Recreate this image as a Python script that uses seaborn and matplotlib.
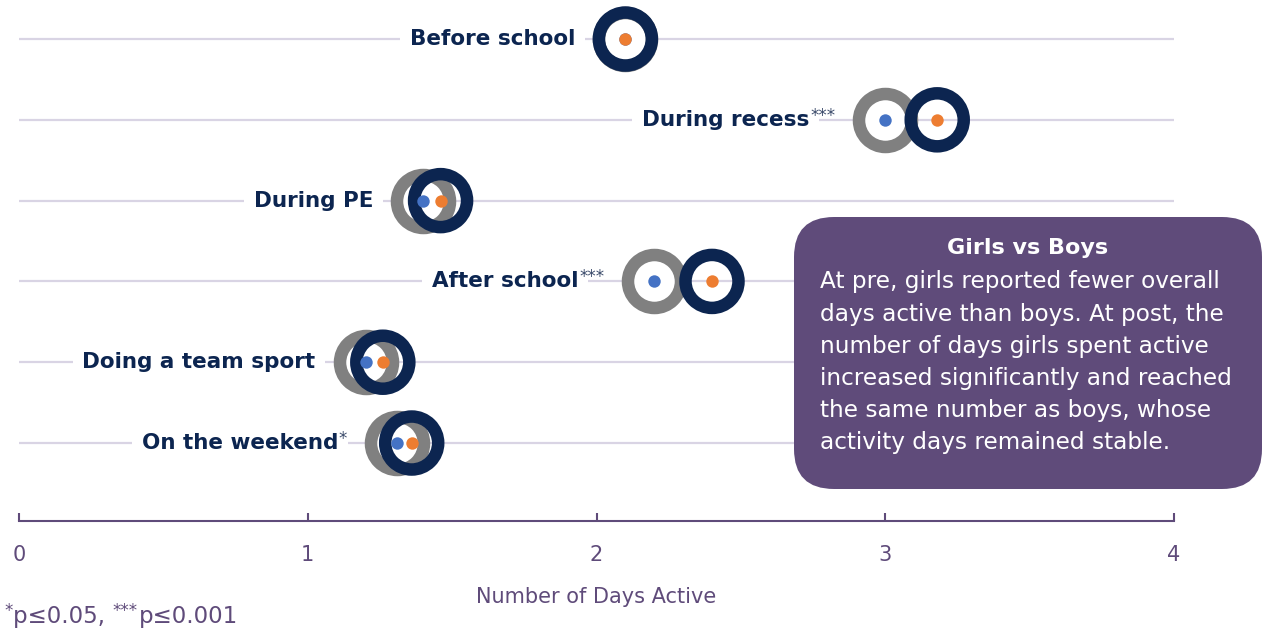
import numpy as np
import pandas as pd
import seaborn as sns
import matplotlib.pyplot as plt
from matplotlib.patches import FancyBboxPatch
from matplotlib.transforms import IdentityTransform

# ---------------- data ----------------
activities = ["Before school", "During recess", "During PE", "After school",
              "Doing a team sport", "On the weekend"]
significance = ["", "***", "", "***", "", "*"]
girls = [2.10, 3.00, 1.40, 2.20, 1.20, 1.31]
boys = [2.10, 3.18, 1.46, 2.40, 1.26, 1.36]
xticks = [0, 1, 2, 3, 4]
x_label = "Number of Days Active"
foot_parts = [("*", "p≤0.05, "), ("***", "p≤0.001")]
box_title = "Girls vs Boys"
box_lines = ["At pre, girls reported fewer overall",
             "days active than boys. At post, the",
             "number of days girls spent active",
             "increased significantly and reached",
             "the same number as boys, whose",
             "activity days remained stable."]

df = pd.DataFrame({"activity": activities, "girls": girls, "boys": boys})

# ---------------- style ----------------
NAVY = "#0c2550"
GRAY = "#808080"
BLUE = "#4472c4"
ORANGE = "#ed7d31"
PURPLE = "#5f4b7a"
GRID = "#d9d4e4"
FONT = "DejaVu Sans"

sns.set_theme(style="white")
plt.rcParams["font.family"] = [FONT]

W, H = 1263, 633
fig = plt.figure(figsize=(W / 100, H / 100), dpi=100)
ax = fig.add_axes([19 / W, 1 - 521 / H, 1155 / W, 521 / H])
renderer = fig.canvas.get_renderer()

ring_s = 1456
ring_lw = 9.0
dot_s = 80

sns.scatterplot(data=df, x="girls", y="activity", ax=ax, s=ring_s, marker="o",
                facecolor="white", edgecolor=GRAY, linewidth=ring_lw, zorder=3,
                legend=False)
sns.scatterplot(data=df, x="boys", y="activity", ax=ax, s=ring_s, marker="o",
                facecolor="none", edgecolor=NAVY, linewidth=ring_lw, zorder=4,
                legend=False)
sns.scatterplot(data=df, x="girls", y="activity", ax=ax, s=dot_s, marker="o",
                color=BLUE, linewidth=0, zorder=5, legend=False)
sns.scatterplot(data=df, x="boys", y="activity", ax=ax, s=dot_s, marker="o",
                color=ORANGE, linewidth=0, zorder=6, legend=False)

ax.set_xlim(0, 4)
ax.set_ylim(5.965, -0.483)
ax.set_xticks(xticks)
ax.set_xticklabels([str(t) for t in xticks])
ax.set_ylabel("")
ax.set_xlabel(x_label, color=PURPLE, fontsize=15, labelpad=16)

ax.grid(axis="y", color=GRID, linewidth=1.6, zorder=1)
ax.grid(axis="x", visible=False)
ax.tick_params(axis="y", length=0, labelleft=False)
ax.tick_params(axis="x", bottom=True, direction="in", length=6, width=1.5,
               colors=PURPLE, labelsize=15, pad=17)
for side in ["top", "left", "right"]:
    ax.spines[side].set_visible(False)
ax.spines["bottom"].set_color(PURPLE)
ax.spines["bottom"].set_linewidth(1.5)


def text_width(s, size):
    t = fig.text(0, 0, s, fontsize=size)
    w = t.get_window_extent(renderer).width
    t.remove()
    return w


# category labels to the left of the rings
AST_SIZE = 12
for i, (name, sig, g) in enumerate(zip(activities, significance, girls)):
    ast_w = text_width(sig, AST_SIZE) + 1 if sig else 0
    lab = ax.annotate(name, xy=(g, i), xytext=(-50 - ast_w, 0),
                      textcoords="offset pixels", ha="right", va="center",
                      fontsize=15.5, fontweight="bold", color=NAVY, zorder=2,
                      bbox=dict(boxstyle="square,pad=0.45", fc="white", ec="none"))
    if sig:
        ax.annotate(sig, xy=(1, 1), xycoords=lab, xytext=(1, 3),
                    textcoords="offset pixels", ha="left", va="top",
                    fontsize=AST_SIZE, color="#3a4a6a", zorder=2)

# text box
box = FancyBboxPatch((794, 633 - 489), 468, 272,
                     boxstyle="round,pad=0,rounding_size=40",
                     transform=IdentityTransform(), fc=PURPLE, ec="none",
                     zorder=10)
fig.patches.append(box)
fig.text(1028 / W, 1 - 248 / H, box_title, ha="center", va="center",
         fontsize=16, fontweight="bold", color="white", zorder=11)
for k, line in enumerate(box_lines):
    fig.text(820 / W, 1 - (282 + 32.2 * k) / H, line, ha="left", va="center",
             fontsize=16.7, color="white", zorder=11)

# footnote with superscript asterisks
FOOT_SIZE = 16.5
prev = None
x0 = 4 / W
for star, main in foot_parts:
    st = fig.text(x0, 1 - 602 / H, star, ha="left", va="top",
                  fontsize=AST_SIZE, color=PURPLE)
    if prev is not None:
        st.set_x(prev.get_window_extent(renderer).x1 / W)
    mt = fig.text(0, 1 - 623 / H, main, ha="left", va="baseline",
                  fontsize=FOOT_SIZE, color=PURPLE)
    mt.set_x((st.get_window_extent(renderer).x1 + 1) / W)
    prev = mt

fig.savefig("out.png", dpi=100)
